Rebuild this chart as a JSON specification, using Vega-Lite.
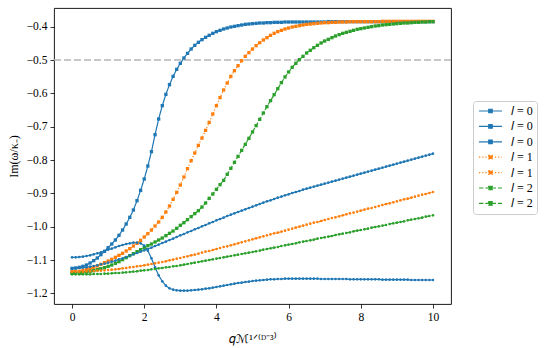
{
"$schema": "https://vega.github.io/schema/vega-lite/v6.json",
"width": 397, "height": 296,
"autosize": "none",
"padding": {"left": 54, "top": 8, "right": 94, "bottom": 44},
"background": "white",
"config": {
  "view": {"stroke": "black", "strokeWidth": 0.9},
  "font": "Liberation Serif",
  "axis": {"grid": false, "domain": false, "labelOverlap": false, "tickColor": "black", "tickSize": 4, "tickWidth": 0.8, "labelColor": "black", "labelFont": "Liberation Serif", "labelFontSize": 11.5, "labelPadding": 3, "titleColor": "black", "titleFont": "Liberation Serif", "titleFontSize": 12, "titleFontWeight": "normal"},
  "legend": {"orient": "none", "legendX": 419, "legendY": 93, "padding": 4, "strokeColor": "#cccccc", "fillColor": "white", "cornerRadius": 3, "labelFont": "Liberation Serif", "labelFontSize": 12, "labelColor": "black", "rowPadding": 3.4, "labelOffset": 22, "symbolType": "M-1.33,0H6.33M1.92,-0.58H3.08V0.58H1.92Z", "symbolSize": 36, "symbolStrokeWidth": 1.2}
},
"layer": [
  {
    "data": {"values": [{"y": -0.5}]},
    "mark": {"type": "rule", "color": "#b5b5b5", "strokeWidth": 1.4, "strokeDash": [7, 3]},
    "encoding": {
      "y": {"field": "y", "type": "quantitative", "scale": {"domain": [-1.232, -0.344], "nice": false, "zero": false},
            "axis": {"values": [-1.2,-1.1,-1.0,-0.9,-0.8,-0.7,-0.6,-0.5,-0.4], "format": ".1f", "title": "Im(ω/κ₋)", "titlePadding": 6}}
    }
  },
  {
    "data": {"values": [
{"q":0.0,"A":-1.125,"B":-1.092,"C":-1.125,"D":-1.135,"E":-1.135,"F":-1.140,"G":-1.143},
{"q":0.1,"A":-1.124,"B":-1.092,"C":-1.125,"D":-1.135,"E":-1.135,"F":-1.140,"G":-1.143},
{"q":0.2,"A":-1.122,"B":-1.091,"C":-1.124,"D":-1.134,"E":-1.135,"F":-1.139,"G":-1.143},
{"q":0.3,"A":-1.119,"B":-1.090,"C":-1.123,"D":-1.132,"E":-1.135,"F":-1.138,"G":-1.143},
{"q":0.4,"A":-1.115,"B":-1.088,"C":-1.122,"D":-1.129,"E":-1.134,"F":-1.136,"G":-1.143},
{"q":0.5,"A":-1.109,"B":-1.086,"C":-1.120,"D":-1.126,"E":-1.134,"F":-1.134,"G":-1.143},
{"q":0.6,"A":-1.102,"B":-1.083,"C":-1.118,"D":-1.122,"E":-1.133,"F":-1.132,"G":-1.142},
{"q":0.7,"A":-1.094,"B":-1.080,"C":-1.116,"D":-1.118,"E":-1.132,"F":-1.129,"G":-1.142},
{"q":0.8,"A":-1.084,"B":-1.077,"C":-1.113,"D":-1.113,"E":-1.132,"F":-1.126,"G":-1.142},
{"q":0.9,"A":-1.074,"B":-1.073,"C":-1.111,"D":-1.108,"E":-1.131,"F":-1.123,"G":-1.141},
{"q":1.0,"A":-1.063,"B":-1.069,"C":-1.108,"D":-1.103,"E":-1.130,"F":-1.119,"G":-1.141},
{"q":1.1,"A":-1.052,"B":-1.066,"C":-1.105,"D":-1.098,"E":-1.129,"F":-1.115,"G":-1.140},
{"q":1.2,"A":-1.040,"B":-1.062,"C":-1.102,"D":-1.092,"E":-1.128,"F":-1.110,"G":-1.139},
{"q":1.3,"A":-1.026,"B":-1.058,"C":-1.098,"D":-1.086,"E":-1.127,"F":-1.105,"G":-1.139},
{"q":1.4,"A":-1.010,"B":-1.055,"C":-1.095,"D":-1.080,"E":-1.125,"F":-1.099,"G":-1.138},
{"q":1.5,"A":-0.992,"B":-1.052,"C":-1.091,"D":-1.073,"E":-1.124,"F":-1.093,"G":-1.137},
{"q":1.6,"A":-0.972,"B":-1.050,"C":-1.087,"D":-1.066,"E":-1.122,"F":-1.087,"G":-1.136},
{"q":1.7,"A":-0.950,"B":-1.048,"C":-1.083,"D":-1.058,"E":-1.121,"F":-1.081,"G":-1.135},
{"q":1.8,"A":-0.922,"B":-1.048,"C":-1.079,"D":-1.050,"E":-1.119,"F":-1.075,"G":-1.134},
{"q":1.9,"A":-0.891,"B":-1.050,"C":-1.075,"D":-1.041,"E":-1.118,"F":-1.069,"G":-1.132},
{"q":2.0,"A":-0.857,"B":-1.057,"C":-1.071,"D":-1.031,"E":-1.116,"F":-1.063,"G":-1.131},
{"q":2.1,"A":-0.818,"B":-1.072,"C":-1.067,"D":-1.021,"E":-1.114,"F":-1.057,"G":-1.130},
{"q":2.2,"A":-0.775,"B":-1.095,"C":-1.063,"D":-1.010,"E":-1.112,"F":-1.052,"G":-1.128},
{"q":2.3,"A":-0.724,"B":-1.122,"C":-1.058,"D":-0.998,"E":-1.110,"F":-1.046,"G":-1.127},
{"q":2.4,"A":-0.677,"B":-1.146,"C":-1.054,"D":-0.986,"E":-1.108,"F":-1.040,"G":-1.125},
{"q":2.5,"A":-0.637,"B":-1.164,"C":-1.049,"D":-0.972,"E":-1.106,"F":-1.034,"G":-1.124},
{"q":2.6,"A":-0.603,"B":-1.177,"C":-1.045,"D":-0.956,"E":-1.104,"F":-1.027,"G":-1.122},
{"q":2.7,"A":-0.574,"B":-1.185,"C":-1.040,"D":-0.938,"E":-1.101,"F":-1.020,"G":-1.121},
{"q":2.8,"A":-0.549,"B":-1.189,"C":-1.036,"D":-0.918,"E":-1.099,"F":-1.013,"G":-1.119},
{"q":2.9,"A":-0.528,"B":-1.191,"C":-1.031,"D":-0.897,"E":-1.096,"F":-1.005,"G":-1.118},
{"q":3.0,"A":-0.510,"B":-1.192,"C":-1.026,"D":-0.875,"E":-1.094,"F":-0.996,"G":-1.116},
{"q":3.1,"A":-0.494,"B":-1.192,"C":-1.022,"D":-0.851,"E":-1.091,"F":-0.988,"G":-1.114},
{"q":3.2,"A":-0.480,"B":-1.192,"C":-1.017,"D":-0.826,"E":-1.089,"F":-0.979,"G":-1.112},
{"q":3.3,"A":-0.467,"B":-1.191,"C":-1.013,"D":-0.802,"E":-1.086,"F":-0.970,"G":-1.110},
{"q":3.4,"A":-0.456,"B":-1.190,"C":-1.008,"D":-0.779,"E":-1.084,"F":-0.961,"G":-1.108},
{"q":3.5,"A":-0.447,"B":-1.189,"C":-1.004,"D":-0.756,"E":-1.081,"F":-0.952,"G":-1.106},
{"q":3.6,"A":-0.439,"B":-1.188,"C":-0.999,"D":-0.734,"E":-1.078,"F":-0.941,"G":-1.104},
{"q":3.7,"A":-0.432,"B":-1.186,"C":-0.995,"D":-0.711,"E":-1.075,"F":-0.929,"G":-1.102},
{"q":3.8,"A":-0.426,"B":-1.185,"C":-0.990,"D":-0.687,"E":-1.073,"F":-0.915,"G":-1.100},
{"q":3.9,"A":-0.420,"B":-1.183,"C":-0.986,"D":-0.662,"E":-1.070,"F":-0.902,"G":-1.098},
{"q":4.0,"A":-0.415,"B":-1.181,"C":-0.981,"D":-0.637,"E":-1.067,"F":-0.888,"G":-1.096},
{"q":4.1,"A":-0.411,"B":-1.179,"C":-0.977,"D":-0.613,"E":-1.064,"F":-0.874,"G":-1.094},
{"q":4.2,"A":-0.407,"B":-1.177,"C":-0.973,"D":-0.590,"E":-1.061,"F":-0.861,"G":-1.092},
{"q":4.3,"A":-0.404,"B":-1.175,"C":-0.968,"D":-0.569,"E":-1.059,"F":-0.843,"G":-1.090},
{"q":4.4,"A":-0.401,"B":-1.173,"C":-0.964,"D":-0.549,"E":-1.056,"F":-0.825,"G":-1.088},
{"q":4.5,"A":-0.399,"B":-1.171,"C":-0.960,"D":-0.532,"E":-1.053,"F":-0.807,"G":-1.086},
{"q":4.6,"A":-0.397,"B":-1.169,"C":-0.956,"D":-0.517,"E":-1.050,"F":-0.789,"G":-1.084},
{"q":4.7,"A":-0.395,"B":-1.168,"C":-0.952,"D":-0.502,"E":-1.047,"F":-0.771,"G":-1.082},
{"q":4.8,"A":-0.393,"B":-1.166,"C":-0.948,"D":-0.489,"E":-1.044,"F":-0.753,"G":-1.080},
{"q":4.9,"A":-0.392,"B":-1.165,"C":-0.944,"D":-0.478,"E":-1.041,"F":-0.735,"G":-1.078},
{"q":5.0,"A":-0.391,"B":-1.163,"C":-0.940,"D":-0.467,"E":-1.038,"F":-0.716,"G":-1.076},
{"q":5.1,"A":-0.390,"B":-1.162,"C":-0.936,"D":-0.457,"E":-1.035,"F":-0.697,"G":-1.074},
{"q":5.2,"A":-0.389,"B":-1.161,"C":-0.932,"D":-0.448,"E":-1.032,"F":-0.678,"G":-1.072},
{"q":5.3,"A":-0.389,"B":-1.160,"C":-0.928,"D":-0.440,"E":-1.029,"F":-0.659,"G":-1.069},
{"q":5.4,"A":-0.388,"B":-1.159,"C":-0.924,"D":-0.433,"E":-1.026,"F":-0.640,"G":-1.067},
{"q":5.5,"A":-0.388,"B":-1.158,"C":-0.921,"D":-0.426,"E":-1.023,"F":-0.622,"G":-1.065},
{"q":5.6,"A":-0.387,"B":-1.158,"C":-0.917,"D":-0.420,"E":-1.020,"F":-0.604,"G":-1.063},
{"q":5.7,"A":-0.387,"B":-1.157,"C":-0.913,"D":-0.415,"E":-1.018,"F":-0.586,"G":-1.061},
{"q":5.8,"A":-0.387,"B":-1.157,"C":-0.910,"D":-0.411,"E":-1.015,"F":-0.568,"G":-1.058},
{"q":5.9,"A":-0.386,"B":-1.156,"C":-0.906,"D":-0.407,"E":-1.012,"F":-0.551,"G":-1.056},
{"q":6.0,"A":-0.386,"B":-1.156,"C":-0.903,"D":-0.404,"E":-1.009,"F":-0.536,"G":-1.054},
{"q":6.1,"A":-0.386,"B":-1.156,"C":-0.899,"D":-0.401,"E":-1.006,"F":-0.522,"G":-1.052},
{"q":6.2,"A":-0.386,"B":-1.156,"C":-0.896,"D":-0.399,"E":-1.003,"F":-0.510,"G":-1.050},
{"q":6.3,"A":-0.386,"B":-1.156,"C":-0.893,"D":-0.397,"E":-1.000,"F":-0.499,"G":-1.047},
{"q":6.4,"A":-0.386,"B":-1.156,"C":-0.889,"D":-0.395,"E":-0.997,"F":-0.489,"G":-1.045},
{"q":6.5,"A":-0.386,"B":-1.156,"C":-0.886,"D":-0.393,"E":-0.994,"F":-0.479,"G":-1.043},
{"q":6.6,"A":-0.386,"B":-1.156,"C":-0.883,"D":-0.392,"E":-0.991,"F":-0.471,"G":-1.041},
{"q":6.7,"A":-0.386,"B":-1.156,"C":-0.880,"D":-0.391,"E":-0.988,"F":-0.463,"G":-1.039},
{"q":6.8,"A":-0.386,"B":-1.156,"C":-0.877,"D":-0.390,"E":-0.986,"F":-0.456,"G":-1.036},
{"q":6.9,"A":-0.386,"B":-1.157,"C":-0.874,"D":-0.389,"E":-0.983,"F":-0.449,"G":-1.034},
{"q":7.0,"A":-0.386,"B":-1.157,"C":-0.871,"D":-0.388,"E":-0.980,"F":-0.443,"G":-1.032},
{"q":7.1,"A":-0.385,"B":-1.157,"C":-0.868,"D":-0.388,"E":-0.977,"F":-0.438,"G":-1.030},
{"q":7.2,"A":-0.385,"B":-1.157,"C":-0.865,"D":-0.387,"E":-0.974,"F":-0.433,"G":-1.028},
{"q":7.3,"A":-0.385,"B":-1.157,"C":-0.862,"D":-0.387,"E":-0.972,"F":-0.428,"G":-1.025},
{"q":7.4,"A":-0.385,"B":-1.157,"C":-0.859,"D":-0.386,"E":-0.969,"F":-0.424,"G":-1.023},
{"q":7.5,"A":-0.385,"B":-1.157,"C":-0.856,"D":-0.386,"E":-0.966,"F":-0.420,"G":-1.021},
{"q":7.6,"A":-0.385,"B":-1.157,"C":-0.853,"D":-0.386,"E":-0.963,"F":-0.417,"G":-1.019},
{"q":7.7,"A":-0.385,"B":-1.158,"C":-0.850,"D":-0.385,"E":-0.960,"F":-0.414,"G":-1.017},
{"q":7.8,"A":-0.385,"B":-1.158,"C":-0.847,"D":-0.385,"E":-0.958,"F":-0.411,"G":-1.014},
{"q":7.9,"A":-0.385,"B":-1.158,"C":-0.844,"D":-0.385,"E":-0.955,"F":-0.408,"G":-1.012},
{"q":8.0,"A":-0.385,"B":-1.158,"C":-0.841,"D":-0.385,"E":-0.952,"F":-0.406,"G":-1.010},
{"q":8.1,"A":-0.385,"B":-1.158,"C":-0.838,"D":-0.385,"E":-0.949,"F":-0.404,"G":-1.008},
{"q":8.2,"A":-0.385,"B":-1.158,"C":-0.835,"D":-0.385,"E":-0.946,"F":-0.402,"G":-1.006},
{"q":8.3,"A":-0.385,"B":-1.158,"C":-0.832,"D":-0.385,"E":-0.944,"F":-0.400,"G":-1.003},
{"q":8.4,"A":-0.385,"B":-1.158,"C":-0.829,"D":-0.385,"E":-0.941,"F":-0.398,"G":-1.001},
{"q":8.5,"A":-0.385,"B":-1.158,"C":-0.826,"D":-0.385,"E":-0.938,"F":-0.397,"G":-0.999},
{"q":8.6,"A":-0.385,"B":-1.159,"C":-0.823,"D":-0.384,"E":-0.935,"F":-0.395,"G":-0.997},
{"q":8.7,"A":-0.385,"B":-1.159,"C":-0.820,"D":-0.384,"E":-0.932,"F":-0.394,"G":-0.995},
{"q":8.8,"A":-0.385,"B":-1.159,"C":-0.817,"D":-0.384,"E":-0.930,"F":-0.393,"G":-0.992},
{"q":8.9,"A":-0.385,"B":-1.159,"C":-0.814,"D":-0.384,"E":-0.927,"F":-0.392,"G":-0.990},
{"q":9.0,"A":-0.385,"B":-1.159,"C":-0.811,"D":-0.384,"E":-0.924,"F":-0.391,"G":-0.988},
{"q":9.1,"A":-0.385,"B":-1.159,"C":-0.808,"D":-0.384,"E":-0.921,"F":-0.390,"G":-0.986},
{"q":9.2,"A":-0.385,"B":-1.159,"C":-0.805,"D":-0.384,"E":-0.918,"F":-0.389,"G":-0.984},
{"q":9.3,"A":-0.385,"B":-1.159,"C":-0.802,"D":-0.384,"E":-0.916,"F":-0.389,"G":-0.981},
{"q":9.4,"A":-0.385,"B":-1.160,"C":-0.799,"D":-0.384,"E":-0.913,"F":-0.388,"G":-0.979},
{"q":9.5,"A":-0.385,"B":-1.160,"C":-0.796,"D":-0.384,"E":-0.910,"F":-0.387,"G":-0.977},
{"q":9.6,"A":-0.385,"B":-1.160,"C":-0.793,"D":-0.384,"E":-0.907,"F":-0.387,"G":-0.975},
{"q":9.7,"A":-0.385,"B":-1.160,"C":-0.790,"D":-0.384,"E":-0.904,"F":-0.386,"G":-0.973},
{"q":9.8,"A":-0.385,"B":-1.160,"C":-0.787,"D":-0.384,"E":-0.902,"F":-0.386,"G":-0.970},
{"q":9.9,"A":-0.385,"B":-1.160,"C":-0.784,"D":-0.384,"E":-0.899,"F":-0.385,"G":-0.968},
{"q":10.0,"A":-0.385,"B":-1.160,"C":-0.781,"D":-0.384,"E":-0.896,"F":-0.385,"G":-0.966}
    ]},
    "transform": [{"fold": ["A","B","C","D","E","F","G"], "as": ["series","v"]}],
    "encoding": {
      "x": {"field": "q", "type": "quantitative", "scale": {"domain": [-0.5, 10.5], "nice": false, "zero": false},
            "axis": {"values": [0,2,4,6,8,10], "format": "d", "title": "𝑞ℳ¹ᐟ⁽ᴰ⁻³⁾", "titlePadding": 11}},
      "y": {"field": "v", "type": "quantitative", "scale": {"domain": [-1.232, -0.344], "nice": false, "zero": false},
            "axis": {"values": [-1.2,-1.1,-1.0,-0.9,-0.8,-0.7,-0.6,-0.5,-0.4], "format": ".1f", "title": "Im(ω/κ₋)", "titlePadding": 6}},
      "color": {"field": "series", "type": "nominal",
                "scale": {"domain": ["A","B","C","D","E","F","G"], "range": ["#1f77b4","#1f77b4","#1f77b4","#ff7f0e","#ff7f0e","#2ca02c","#2ca02c"]},
                "legend": {"title": null, "labelExpr": "datum.value <= 'C' ? '𝑙 = 0' : (datum.value <= 'E' ? '𝑙 = 1' : '𝑙 = 2')",
                           "encode": {"symbols": {"update": {"fill": {"scale": "color", "field": "value"}}}}}}
    },
    "layer": [
      {
        "mark": {"type": "line", "strokeWidth": 1.2},
        "encoding": {
          "strokeDash": {"field": "series", "type": "nominal",
                         "scale": {"domain": ["A","B","C","D","E","F","G"], "range": [[1,0],[1,0],[1,0],[1.2,2],[1.2,2],[4.4,1.9],[4.4,1.9]]},
                         "legend": {"title": null, "labelExpr": "datum.value <= 'C' ? '𝑙 = 0' : (datum.value <= 'E' ? '𝑙 = 1' : '𝑙 = 2')"}}
        }
      },
      {
        "transform": [{"filter": "datum.series == 'A' || datum.series == 'D' || datum.series == 'F'"}],
        "mark": {"type": "point", "filled": true, "opacity": 1, "shape": "square", "size": 11}
      },
      {
        "transform": [{"filter": "datum.series == 'B' || datum.series == 'C' || datum.series == 'E' || datum.series == 'G'"}],
        "mark": {"type": "point", "filled": true, "opacity": 1, "shape": "circle", "size": 7}
      }
    ]
  }
]
}
